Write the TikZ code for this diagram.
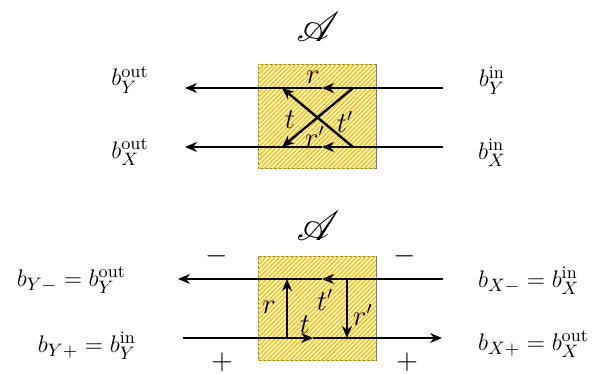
\documentclass[tikz,border=0pt]{standalone}
\usepackage{amsmath}
\usepackage{amssymb}
\usepackage{mathrsfs}
\usepackage{tikz}
\usetikzlibrary{arrows.meta, positioning, patterns.meta, calc}
\usepackage{xcolor}
\definecolor{hatch}{RGB}{248,200,35}

\begin{document}
\begin{tikzpicture}[
  x=0.5pt, y=-0.5pt,
  scatterer/.style={draw=black!55, line width=0.5pt, fill=white,
              postaction={pattern={Lines[angle=45, distance=1.6pt, line width=0.9pt]},
                          pattern color=hatch}},
  arrow/.style={-{Stealth[length=6pt, width=5pt]}, line width=1.2pt},
  lbl/.style={font=\fontsize{13.5}{16}\selectfont},
  port/.style={font=\fontsize{12.6}{15}\selectfont, anchor=base}
]
\useasboundingbox (0,0) rectangle (604,374);

% upper picture: crossing paths
\node[font=\fontsize{22}{26}\selectfont] (sA) at (318,27) {$\mathscr{A}$};
\draw[scatterer] (258,65) rectangle (376,168);

\coordinate (yin) at (443,88);
\coordinate (ymid) at (322,88);
\coordinate (yout) at (185,88);
\coordinate (xin) at (443,147);
\coordinate (xmid) at (322,147);
\coordinate (xout) at (185,147);
\coordinate (ya) at (353,88);
\coordinate (yb) at (282,88);
\coordinate (xa) at (353,147);
\coordinate (xb) at (282,147);

\draw[arrow] (yin) -- (ymid);
\draw[arrow] (ymid) -- (yout);
\draw[arrow] (xin) -- (xmid);
\draw[arrow] (xmid) -- (xout);
\draw[arrow] (ya) -- (xb);
\draw[arrow] (xa) -- (yb);

\node[lbl] (r1) at (313,77) {$r$};
\node[lbl] (t1) at (290,120) {$t$};
\node[lbl] (tp1) at (345,122) {$t'$};
\node[lbl] (rp1) at (315,137) {$r'$};

\node[port] (byout) at (130,86) {$b_Y^{\text{out}}$};
\node[port] (bxout) at (130,158) {$b_X^{\text{out}}$};
\node[port] (byin) at (492,87) {$b_Y^{\text{in}}$};
\node[port] (bxin) at (492,159) {$b_X^{\text{in}}$};

% lower picture: plus/minus paths
\node[font=\fontsize{22}{26}\selectfont] (sB) at (318,226) {$\mathscr{A}$};
\draw[scatterer] (258,256) rectangle (376,360);

\coordinate (min) at (443,279);
\coordinate (mmid) at (322,279);
\coordinate (mout) at (178,279);
\coordinate (pin) at (183,338);
\coordinate (pmid) at (313,338);
\coordinate (pout) at (442,338);
\coordinate (ra) at (287,338);
\coordinate (rb) at (287,279);
\coordinate (sa) at (347,279);
\coordinate (sb) at (347,338);

\draw[arrow] (min) -- (mmid);
\draw[arrow] (mmid) -- (mout);
\draw[arrow] (pin) -- (pmid);
\draw[arrow] (pmid) -- (pout);
\draw[arrow] (ra) -- (rb);
\draw[arrow] (sa) -- (sb);

\node[lbl] (r2) at (269,307) {$r$};
\node[lbl] (tp2) at (325,300) {$t'$};
\node[lbl] (rp2) at (363,315) {$r'$};
\node[lbl] (t2) at (305,325) {$t$};

\node[lbl] (mL) at (217,256) {$-$};
\node[lbl] (mR) at (405,256) {$-$};
\node[lbl] (pL) at (222,362) {$+$};
\node[lbl] (pR) at (407,362) {$+$};

\node[port, anchor=base east] (bym) at (133,286) {$b_{Y-}=b_Y^{\text{out}}$};
\node[port, anchor=base east] (byp) at (143,352) {$b_{Y+}=b_Y^{\text{in}}$};
\node[port, anchor=base west] (bxm) at (471,287) {$b_{X-}=b_X^{\text{in}}$};
\node[port, anchor=base west] (bxp) at (471,350) {$b_{X+}=b_X^{\text{out}}$};

\end{tikzpicture}
\end{document}
